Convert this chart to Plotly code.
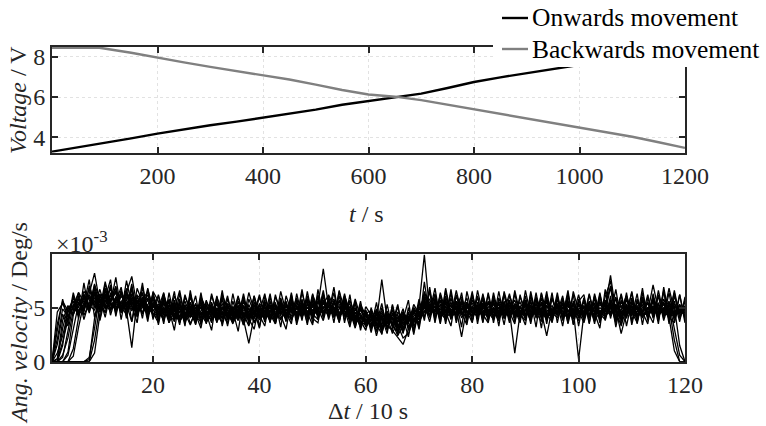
import plotly.graph_objects as go

# ---------------- top panel data ----------------
t_on = [0, 50, 100, 150, 200, 250, 300, 350, 400, 450, 500, 550, 600, 650,
        700, 750, 800, 850, 900, 950, 1000, 1050, 1100, 1150, 1200]
v_on = [3.29, 3.50, 3.72, 3.95, 4.19, 4.40, 4.60, 4.78, 4.98, 5.18, 5.38, 5.62,
        5.80, 5.97, 6.17, 6.45, 6.75, 6.98, 7.18, 7.40, 7.60, 7.80, 8.02, 8.22, 8.45]
t_back = [0, 50, 90, 150, 200, 250, 300, 350, 400, 450, 500, 550, 600, 650,
          700, 750, 800, 850, 900, 950, 1000, 1050, 1100, 1150, 1200]
v_back = [8.45, 8.45, 8.45, 8.20, 7.95, 7.72, 7.50, 7.30, 7.09, 6.87, 6.62, 6.35,
          6.13, 6.02, 5.85, 5.62, 5.39, 5.16, 4.93, 4.70, 4.48, 4.27, 4.03, 3.76, 3.48]
series_names = ["Onwards movement", "Backwards movement"]
series_colors = ["black", "#808080"]

top_xticks = [200, 400, 600, 800, 1000, 1200]
top_yticks = [4, 6, 8]

# ---------------- bottom panel data (x 1e-3 Deg/s) ----------------
dt = list(range(1, 121))
bot_xticks = [20, 40, 60, 80, 100, 120]
bot_yticks = [0, 5]

w1 = [0, 4.6, 5.4, 4.2, 5.0, 4.4, 6.1, 5.2, 4.8, 6.0, 5.3, 4.7, 5.9, 5.0, 4.4, 5.6, 4.9, 5.5, 4.3, 5.1,
      4.6, 3.9, 5.2, 4.5, 3.7, 4.9, 4.2, 5.4, 4.0, 4.6, 3.8, 5.0, 4.3, 4.8, 3.6, 4.5, 5.1, 4.2, 4.7, 3.9,
      4.4, 5.0, 4.1, 4.7, 5.3, 4.5, 4.9, 5.6, 4.6, 5.2, 4.8, 5.5, 4.3, 5.0, 4.4, 5.7, 4.6, 4.0, 4.8, 3.7,
      4.2, 3.3, 4.5, 3.6, 4.1, 3.2, 4.6, 3.9, 5.0, 4.3, 5.6, 4.7, 5.1, 4.2, 5.4, 4.6, 4.9, 5.3, 4.1, 5.0,
      4.5, 5.2, 4.4, 5.0, 4.0, 4.8, 5.4, 4.3, 4.9, 5.1, 4.2, 4.7, 5.3, 4.1, 4.6, 5.0, 4.4, 5.2, 4.5, 4.8,
      4.0, 5.1, 4.6, 5.5, 4.2, 4.9, 5.3, 4.4, 4.8, 5.0, 4.1, 4.7, 5.4, 4.3, 5.0, 4.6, 5.2, 4.4, 4.9, 4.5]
w2 = [0, 0.3, 3.8, 5.2, 4.4, 5.8, 4.9, 6.3, 8.2, 5.4, 6.0, 4.8, 5.6, 4.6, 5.3, 6.1, 4.7, 5.0, 5.7, 4.4,
      4.0, 5.1, 3.6, 4.7, 4.2, 5.3, 3.5, 4.6, 5.0, 3.8, 4.9, 4.1, 5.4, 3.9, 4.5, 4.8, 3.4, 4.6, 5.2, 4.1,
      4.7, 3.8, 4.9, 4.3, 5.5, 4.0, 5.1, 4.6, 5.8, 4.4, 5.2, 8.6, 5.0, 4.6, 5.6, 4.3, 4.9, 3.8, 4.5, 3.2,
      3.9, 2.8, 4.3, 3.4, 3.0, 4.1, 3.5, 4.4, 3.7, 4.8, 5.1, 4.2, 5.6, 4.0, 4.7, 5.2, 4.4, 5.7, 4.6, 4.2,
      5.0, 4.3, 5.5, 4.6, 4.1, 5.1, 4.7, 0.8, 4.5, 5.3, 4.0, 4.9, 4.4, 5.6, 4.2, 4.8, 5.0, 4.3, 5.4, 4.1,
      4.7, 5.0, 3.8, 4.6, 5.2, 7.0, 4.5, 3.4, 4.9, 5.1, 4.3, 4.6, 5.5, 4.8, 4.2, 5.0, 4.4, 5.3, 4.7, 5.1]
w3 = [0, 0, 1.5, 4.9, 5.6, 4.3, 5.1, 6.8, 5.0, 5.7, 4.5, 6.2, 5.2, 4.9, 6.4, 5.5, 4.6, 5.8, 4.8, 5.4,
      4.3, 5.6, 4.1, 5.0, 3.8, 4.4, 5.2, 3.9, 4.7, 5.3, 4.0, 4.5, 3.7, 5.1, 4.2, 4.9, 4.4, 3.3, 4.8, 4.5,
      5.0, 4.2, 4.6, 5.2, 4.1, 5.4, 4.5, 4.9, 4.2, 5.7, 4.8, 5.3, 6.2, 5.0, 4.5, 5.2, 3.9, 4.6, 3.5, 4.4,
      3.6, 4.0, 3.1, 4.2, 2.6, 3.8, 4.5, 3.3, 4.0, 3.6, 5.2, 5.8, 4.4, 5.0, 4.5, 5.5, 4.1, 4.8, 5.3, 4.6,
      4.2, 5.4, 4.8, 4.1, 5.0, 4.5, 5.6, 4.3, 4.7, 5.2, 4.0, 5.1, 4.6, 2.4, 4.9, 4.4, 5.3, 4.1, 4.8, 0.2,
      4.5, 4.9, 4.3, 5.0, 4.6, 5.4, 4.1, 4.8, 5.2, 3.9, 4.7, 5.6, 4.2, 5.0, 4.5, 4.9, 4.3, 5.1, 4.6, 4.4]
w4 = [0, 0, 0.4, 2.8, 5.3, 4.6, 5.9, 5.1, 6.5, 4.8, 5.6, 6.8, 5.0, 5.5, 4.7, 5.9, 5.2, 4.6, 5.3, 5.8,
      4.6, 4.1, 5.3, 4.4, 5.0, 3.6, 4.8, 4.3, 5.5, 4.2, 3.9, 4.7, 5.0, 4.1, 4.6, 3.8, 5.2, 4.5, 4.0, 4.9,
      4.3, 5.1, 4.5, 3.9, 4.8, 5.0, 4.4, 5.3, 5.0, 4.7, 5.6, 4.5, 5.1, 5.8, 4.2, 4.8, 5.4, 3.6, 4.1, 3.9,
      3.5, 4.3, 3.7, 3.2, 4.0, 3.4, 2.2, 2.6, 3.9, 4.2, 4.7, 5.3, 4.6, 5.2, 4.3, 5.0, 5.6, 4.4, 4.9, 5.4,
      4.6, 5.0, 4.4, 5.3, 4.7, 5.2, 4.2, 4.9, 5.5, 4.4, 5.1, 4.6, 4.2, 5.0, 4.8, 4.3, 5.4, 4.6, 5.0, 4.2,
      5.1, 4.4, 5.0, 4.7, 4.1, 5.2, 4.8, 4.4, 5.3, 4.6, 5.0, 4.2, 4.9, 5.5, 4.4, 4.8, 5.1, 2.0, 0.0, 0.0]
w5 = [0, 0, 0, 0.6, 3.0, 5.4, 4.7, 6.2, 5.3, 4.9, 7.4, 5.2, 5.8, 4.9, 5.5, 4.7, 6.0, 5.1, 4.6, 5.5,
      5.0, 4.3, 4.8, 5.4, 4.2, 4.6, 4.1, 5.0, 4.4, 3.6, 4.5, 4.9, 4.0, 5.3, 4.3, 4.7, 4.1, 5.0, 3.7, 4.6,
      4.1, 4.7, 5.3, 4.5, 5.1, 4.2, 5.6, 4.4, 5.0, 5.3, 4.6, 6.0, 4.5, 5.4, 5.0, 4.7, 4.3, 5.0, 3.7, 3.4,
      4.4, 3.7, 7.6, 3.9, 4.1, 2.9, 3.6, 4.0, 4.6, 3.9, 6.5, 5.0, 4.7, 5.6, 4.0, 4.6, 5.1, 4.7, 5.5, 4.4,
      4.8, 4.2, 5.1, 4.6, 5.3, 4.0, 4.8, 5.7, 4.3, 4.9, 4.6, 5.4, 4.1, 4.7, 5.2, 4.5, 4.9, 5.5, 4.3, 4.7,
      4.3, 4.8, 5.4, 4.2, 5.0, 4.6, 5.3, 4.1, 4.7, 5.2, 4.4, 5.0, 4.6, 7.1, 4.8, 5.3, 4.5, 4.2, 4.8, 5.0]
w6 = [0, 0, 0, 0, 0.5, 3.2, 5.5, 4.6, 6.9, 5.4, 6.1, 4.9, 5.7, 6.3, 5.0, 5.6, 4.6, 5.3, 6.2, 4.7,
      5.3, 4.6, 4.0, 5.2, 4.5, 5.6, 4.3, 3.9, 5.1, 4.4, 5.0, 3.7, 4.6, 4.4, 5.0, 3.9, 4.8, 4.6, 5.3, 4.2,
      5.0, 4.4, 3.8, 4.9, 4.3, 4.7, 5.2, 4.1, 5.4, 4.5, 4.9, 5.5, 4.6, 4.9, 5.3, 4.4, 5.1, 4.2, 3.6, 4.0,
      3.3, 4.5, 3.5, 4.0, 3.6, 2.4, 3.4, 3.8, 4.4, 5.1, 9.9, 4.6, 5.2, 4.4, 5.5, 4.2, 5.0, 4.6, 4.0, 5.2,
      4.3, 5.0, 4.6, 5.4, 4.2, 4.8, 5.0, 4.5, 5.1, 4.3, 4.9, 4.6, 5.3, 4.0, 4.8, 5.1, 4.4, 4.7, 5.2, 4.6,
      4.4, 5.3, 4.7, 4.3, 5.0, 8.0, 4.6, 4.2, 5.0, 4.4, 4.9, 5.2, 4.5, 4.8, 5.4, 4.2, 4.9, 4.5, 5.0, 4.7]
w7 = [0, 0, 0, 0, 0, 0, 0, 0.2, 4.0, 5.8, 4.9, 5.6, 6.6, 5.1, 6.0, 5.2, 4.8, 5.9, 5.0, 5.3,
      4.5, 5.3, 4.6, 4.1, 5.1, 4.5, 3.4, 4.8, 4.3, 5.0, 4.6, 3.9, 5.1, 4.2, 4.7, 5.2, 4.3, 4.9, 3.6, 4.4,
      4.8, 3.9, 5.1, 4.6, 4.0, 5.3, 4.3, 5.0, 4.7, 4.3, 5.5, 5.0, 4.2, 5.6, 4.4, 5.1, 4.8, 4.0, 3.8, 4.6,
      4.0, 3.6, 3.0, 4.6, 3.9, 3.1, 4.2, 3.5, 5.3, 4.4, 5.4, 4.3, 4.9, 5.3, 4.7, 4.4, 5.2, 4.1, 4.6, 5.0,
      4.4, 5.1, 4.9, 4.3, 5.6, 4.6, 4.2, 5.0, 4.7, 4.1, 5.5, 4.3, 4.8, 5.2, 4.5, 4.1, 5.0, 4.7, 4.4, 5.3,
      4.9, 4.2, 5.0, 4.6, 5.3, 4.4, 4.9, 2.6, 4.6, 5.1, 4.3, 4.8, 5.0, 4.4, 5.3, 4.7, 4.1, 1.0, 0.0, 0.0]
w8 = [0, 0, 0, 0, 0, 0, 0, 0, 2.0, 5.2, 6.2, 5.0, 5.4, 4.8, 6.4, 7.9, 5.1, 5.6, 4.6, 5.9,
      5.1, 4.8, 5.5, 4.0, 4.6, 5.0, 4.4, 5.3, 3.8, 4.7, 4.3, 5.4, 4.0, 4.6, 3.5, 4.9, 4.5, 4.1, 5.0, 4.6,
      4.2, 4.8, 4.4, 5.1, 4.6, 3.9, 5.0, 4.6, 4.4, 5.6, 4.2, 5.1, 4.8, 4.3, 5.7, 4.6, 3.9, 4.5, 4.3, 3.5,
      4.6, 3.3, 4.1, 3.6, 4.4, 3.8, 3.2, 3.9, 4.2, 4.6, 5.0, 5.5, 4.2, 4.8, 5.1, 4.5, 4.3, 5.5, 4.7, 4.3,
      5.2, 4.6, 4.1, 5.0, 4.5, 5.3, 4.9, 4.2, 4.6, 5.4, 4.4, 5.0, 4.5, 4.8, 4.3, 5.2, 4.6, 4.0, 4.9, 4.4,
      5.2, 4.6, 4.4, 5.3, 4.8, 4.3, 5.1, 4.6, 4.2, 5.4, 4.8, 4.1, 5.0, 4.6, 5.2, 4.4, 4.9, 4.3, 4.8, 4.6]
w9 = [0, 2.1, 4.9, 4.2, 5.1, 5.8, 4.6, 7.0, 5.5, 4.7, 5.6, 4.9, 6.0, 5.4, 4.8, 1.3, 5.7, 4.5, 5.2, 4.3,
      4.4, 5.0, 4.3, 3.8, 4.9, 4.1, 5.5, 4.2, 3.7, 4.8, 5.2, 4.0, 4.6, 3.6, 5.1, 4.4, 3.9, 1.7, 4.2, 4.7,
      3.9, 4.5, 5.0, 4.0, 4.7, 5.2, 4.6, 4.2, 5.0, 4.8, 4.3, 4.9, 5.6, 4.7, 4.2, 5.0, 4.5, 3.5, 4.2, 3.8,
      3.4, 4.4, 3.2, 3.7, 4.8, 3.5, 2.8, 4.2, 3.3, 4.0, 5.0, 4.8, 5.4, 4.6, 4.2, 5.3, 4.9, 2.3, 5.1, 4.8,
      4.7, 5.3, 4.2, 4.8, 5.0, 4.4, 5.2, 4.6, 4.0, 4.8, 5.2, 4.4, 5.0, 4.5, 4.1, 5.3, 4.7, 4.5, 4.0, 5.2,
      4.6, 4.4, 5.1, 4.5, 4.2, 5.0, 4.3, 5.2, 4.4, 4.7, 5.2, 4.5, 4.3, 4.9, 4.6, 5.5, 4.2, 4.6, 5.3, 4.2]
w10 = [0, 0.8, 2.4, 4.5, 5.9, 5.0, 6.5, 5.8, 5.2, 6.7, 5.0, 5.5, 4.7, 6.1, 5.2, 5.8, 4.9, 5.4, 4.6, 5.8,
       4.9, 4.5, 5.0, 4.7, 5.4, 4.0, 4.6, 5.0, 4.1, 5.2, 4.5, 4.2, 4.8, 5.2, 4.1, 4.5, 5.0, 4.3, 4.4, 5.1,
       4.6, 5.2, 4.1, 5.4, 4.4, 4.9, 4.1, 5.5, 4.3, 5.1, 4.4, 4.7, 5.2, 4.1, 4.9, 5.4, 3.8, 4.3, 4.0, 4.2,
       3.8, 4.1, 3.4, 4.7, 3.3, 2.8, 3.8, 4.1, 4.0, 3.7, 4.6, 4.4, 5.7, 4.2, 4.9, 4.6, 5.4, 4.3, 5.2, 4.7,
       5.1, 4.8, 4.3, 5.5, 4.4, 4.9, 4.5, 5.2, 4.2, 4.7, 5.0, 4.4, 5.5, 4.2, 4.7, 4.6, 5.2, 4.8, 4.1, 4.9,
       5.0, 4.7, 5.3, 4.0, 4.9, 5.5, 4.0, 4.5, 5.1, 4.8, 4.6, 5.3, 4.1, 5.2, 4.3, 5.4, 4.8, 5.1, 1.5, 0.0]
w11 = [0, 3.5, 5.6, 4.7, 5.2, 6.4, 5.5, 4.8, 5.9, 5.3, 4.6, 5.8, 6.9, 5.0, 5.7, 4.9, 5.5, 6.3, 4.9, 5.2,
       4.8, 5.5, 4.3, 5.1, 4.6, 4.9, 4.4, 5.0, 4.6, 4.2, 5.0, 4.6, 4.1, 5.0, 4.7, 4.2, 5.5, 4.8, 4.4, 5.3,
       5.1, 4.3, 4.9, 4.4, 5.2, 4.6, 5.4, 4.7, 5.0, 4.5, 5.9, 4.6, 5.4, 4.9, 5.1, 4.2, 4.6, 4.1, 4.9, 4.5,
       4.7, 3.9, 4.7, 3.5, 4.3, 4.0, 4.6, 3.7, 4.7, 4.5, 4.6, 5.1, 4.6, 5.7, 5.0, 4.8, 5.0, 4.9, 5.3, 4.5,
       4.9, 4.5, 5.4, 4.2, 5.0, 4.7, 5.1, 4.8, 4.4, 5.6, 4.7, 4.3, 4.9, 5.1, 4.6, 5.0, 4.3, 5.3, 4.7, 4.6,
       4.8, 5.1, 4.6, 5.6, 4.4, 5.1, 5.0, 4.7, 4.4, 5.0, 4.9, 4.6, 5.4, 5.0, 4.6, 4.9, 5.6, 4.5, 5.1, 4.8]
w12 = [0, 0, 3.1, 5.0, 4.4, 5.5, 4.9, 6.0, 5.6, 5.0, 6.3, 5.3, 4.9, 5.6, 6.2, 5.1, 4.5, 5.2, 5.9, 4.8,
       4.2, 4.7, 4.9, 4.3, 5.3, 4.5, 5.0, 3.7, 4.5, 4.1, 4.7, 5.3, 4.4, 4.3, 4.9, 5.0, 4.2, 4.7, 4.1, 4.8,
       4.5, 4.6, 5.2, 4.7, 4.3, 5.0, 4.9, 4.4, 5.3, 4.1, 5.0, 5.4, 4.8, 4.5, 4.9, 5.3, 4.1, 3.8, 4.8, 4.1,
       3.9, 4.8, 3.9, 3.3, 2.9, 2.2, 1.6, 3.0, 4.5, 4.2, 5.2, 5.2, 5.0, 4.5, 5.2, 4.1, 4.6, 5.1, 5.0, 4.8,
       4.6, 5.4, 4.7, 4.8, 5.3, 4.2, 5.5, 4.4, 5.0, 4.5, 4.3, 5.3, 4.7, 4.4, 5.0, 4.7, 4.4, 5.0, 5.2, 4.6,
       4.6, 5.0, 4.8, 4.5, 5.4, 4.6, 5.2, 4.6, 5.0, 4.5, 5.1, 4.3, 4.6, 5.1, 4.9, 4.4, 6.8, 4.7, 4.6, 4.9]
w13 = [0, 0, 0, 0, 1.2, 4.1, 6.3, 5.0, 7.2, 4.6, 6.8, 5.4, 7.0, 3.9, 6.5, 5.2, 3.6, 6.9, 4.8, 6.2,
       3.4, 6.0, 4.9, 2.9, 5.8, 3.8, 6.3, 4.4, 3.1, 5.7, 4.0, 6.1, 3.3, 5.4, 4.7, 2.8, 5.9, 3.9, 6.0, 3.2,
       5.5, 3.6, 6.2, 4.3, 3.0, 5.8, 3.9, 6.4, 4.5, 3.4, 6.7, 4.2, 5.9, 3.6, 6.5, 4.9, 3.2, 5.6, 2.9, 4.8,
       2.7, 4.9, 2.5, 5.3, 3.1, 4.4, 2.6, 5.0, 3.4, 5.8, 3.8, 6.6, 4.0, 6.2, 3.5, 5.9, 4.3, 6.4, 3.6, 6.1,
       3.9, 6.3, 4.1, 5.8, 3.3, 6.5, 4.6, 3.5, 6.2, 4.0, 5.7, 3.2, 6.4, 4.4, 3.7, 6.0, 4.2, 6.6, 3.4, 5.5,
       3.8, 6.2, 4.5, 3.1, 6.7, 4.0, 5.9, 3.3, 6.1, 4.6, 3.6, 6.4, 4.1, 5.8, 3.5, 6.9, 4.2, 5.6, 3.7, 6.0]
w14 = [0, 1.6, 4.4, 3.3, 6.1, 4.0, 7.3, 4.5, 6.4, 3.8, 5.9, 7.6, 4.2, 6.6, 4.9, 7.2, 4.1, 6.0, 3.7, 6.5,
       5.6, 3.5, 6.4, 4.1, 5.5, 3.3, 6.6, 3.9, 5.8, 4.5, 2.9, 6.0, 4.6, 3.5, 6.3, 4.0, 5.2, 3.7, 6.1, 4.3,
       3.3, 6.0, 4.2, 5.6, 3.7, 6.2, 3.4, 5.4, 4.1, 6.3, 3.9, 5.7, 4.5, 6.9, 3.8, 6.1, 4.7, 3.1, 5.2, 3.4,
       4.6, 2.4, 4.3, 3.0, 5.2, 2.8, 4.0, 2.3, 4.8, 3.2, 7.4, 4.1, 6.3, 3.6, 6.8, 4.4, 5.6, 3.2, 6.5, 4.5,
       6.0, 3.6, 6.4, 4.2, 5.5, 3.4, 6.1, 4.8, 3.6, 6.6, 4.3, 5.8, 3.1, 6.2, 4.5, 5.4, 3.3, 6.0, 4.7, 3.8,
       5.9, 3.5, 6.3, 4.4, 3.9, 6.1, 3.2, 5.7, 4.3, 6.5, 3.8, 5.6, 4.6, 3.6, 6.2, 4.0, 6.4, 3.7, 5.3, 4.2]
w15 = [0, 0, 0, 0, 0, 0, 0, 0.4, 3.1, 6.2, 5.1, 7.0, 4.4, 6.5, 5.3, 3.7, 6.8, 5.5, 4.3, 6.1,
       4.9, 6.4, 3.6, 5.7, 3.9, 6.2, 4.6, 3.5, 6.0, 4.2, 5.3, 3.6, 6.2, 4.9, 3.8, 5.6, 4.0, 6.4, 4.7, 3.1,
       6.1, 4.4, 3.5, 5.9, 4.1, 6.1, 3.7, 5.2, 3.6, 6.0, 4.4, 6.6, 3.9, 5.6, 4.3, 6.3, 4.0, 5.4, 3.3, 5.1,
       4.3, 3.5, 5.4, 2.9, 4.5, 3.7, 4.9, 2.9, 4.1, 3.4, 6.3, 4.6, 6.8, 3.9, 6.1, 4.2, 6.6, 4.5, 3.4, 6.3,
       4.3, 5.8, 3.7, 6.4, 4.2, 5.5, 3.9, 6.3, 4.0, 5.7, 3.5, 6.0, 4.7, 3.9, 6.4, 3.6, 5.9, 4.1, 6.2, 3.3,
       5.9, 4.1, 6.0, 3.6, 5.5, 4.4, 6.7, 3.7, 5.8, 4.2, 6.3, 3.4, 5.9, 4.5, 6.1, 3.8, 5.5, 3.0, 0.6, 0.0]
w16 = [0, 0.2, 1.8, 3.9, 6.0, 4.7, 5.3, 7.6, 4.1, 6.3, 5.0, 7.1, 4.5, 6.6, 4.0, 6.9, 4.6, 7.3, 4.2, 6.0,
       3.8, 5.9, 4.3, 6.5, 3.6, 5.2, 4.5, 6.1, 3.4, 5.6, 4.7, 3.8, 6.6, 3.9, 5.1, 4.4, 6.0, 3.5, 5.5, 4.6,
       6.3, 3.9, 5.5, 3.2, 6.1, 4.6, 5.9, 3.8, 6.5, 4.0, 3.6, 6.2, 4.6, 5.0, 3.7, 5.8, 3.5, 4.9, 3.8, 2.9,
       5.0, 3.4, 2.6, 4.3, 3.3, 5.1, 3.0, 4.6, 2.7, 5.5, 4.1, 6.9, 3.8, 6.4, 4.6, 3.3, 6.2, 4.8, 5.9, 3.7,
       6.6, 4.4, 3.6, 6.0, 4.5, 6.3, 3.8, 5.4, 4.6, 3.4, 6.5, 4.2, 5.9, 3.5, 6.0, 4.3, 5.7, 3.6, 6.5, 4.7,
       3.6, 5.5, 4.0, 6.4, 3.8, 5.7, 4.7, 6.2, 3.3, 5.6, 4.0, 6.8, 3.8, 6.0, 4.7, 5.4, 3.9, 6.6, 4.1, 5.7]
w17 = [0, 0, 0, 0.9, 4.3, 6.1, 3.9, 5.6, 6.7, 4.8, 6.0, 5.4, 7.8, 4.7, 5.8, 6.6, 4.2, 5.7, 6.5, 3.9,
       6.2, 4.4, 5.7, 3.7, 6.3, 4.2, 5.1, 3.6, 6.4, 3.7, 5.5, 4.2, 6.0, 3.3, 5.6, 4.1, 6.3, 4.0, 3.0, 5.4,
       3.7, 5.6, 3.9, 6.5, 4.6, 3.5, 6.3, 4.2, 5.7, 3.6, 6.2, 4.0, 6.0, 4.4, 6.1, 3.8, 5.7, 4.3, 3.2, 4.7,
       3.0, 4.6, 3.2, 4.0, 3.6, 5.3, 2.7, 4.6, 3.0, 4.4, 5.3, 3.7, 5.9, 4.6, 3.9, 6.4, 3.6, 5.8, 4.2, 6.5,
       3.5, 6.1, 4.6, 3.9, 6.5, 4.0, 5.7, 3.7, 6.0, 4.8, 3.8, 6.4, 3.9, 5.6, 4.0, 6.4, 3.8, 5.5, 4.4, 6.2,
       4.1, 6.3, 3.7, 5.9, 4.6, 6.9, 3.9, 4.9, 6.1, 3.7, 5.8, 4.6, 3.5, 6.3, 4.1, 5.8, 4.5, 6.4, 4.0, 5.2]
w18 = [0, 0, 0, 0, 0, 0, 0, 0, 0.8, 4.4, 7.2, 5.6, 6.4, 4.5, 7.5, 5.2, 6.2, 4.0, 6.7, 5.0,
       6.1, 3.7, 5.8, 4.8, 6.6, 4.1, 5.5, 3.4, 6.0, 4.9, 3.6, 5.6, 4.3, 6.1, 3.9, 5.2, 3.4, 5.8, 4.5, 6.2,
       4.0, 5.3, 3.5, 5.8, 3.8, 5.5, 4.0, 6.7, 3.9, 5.4, 4.6, 6.3, 4.1, 5.6, 3.6, 6.0, 4.4, 3.5, 5.6, 3.2,
       4.2, 2.8, 5.0, 3.5, 4.8, 2.5, 4.4, 3.2, 3.8, 4.9, 6.0, 4.9, 6.2, 4.0, 5.8, 3.9, 6.1, 4.4, 5.5, 3.8,
       5.5, 4.0, 6.2, 3.6, 5.9, 4.7, 6.3, 4.0, 5.2, 3.9, 6.0, 4.6, 3.7, 5.9, 3.9, 6.1, 4.1, 5.7, 3.5, 5.8,
       4.3, 5.6, 3.5, 6.2, 4.1, 5.3, 3.6, 6.3, 4.0, 5.9, 3.7, 6.0, 4.2, 5.6, 3.9, 6.6, 3.5, 6.1, 4.4, 5.5]
w19 = [0, 2.8, 5.8, 3.7, 6.4, 4.5, 6.0, 4.8, 7.1, 5.9, 4.1, 6.4, 5.5, 6.9, 4.2, 6.3, 5.5, 4.4, 6.8, 4.5,
       3.6, 6.3, 4.5, 5.3, 3.4, 6.0, 4.8, 3.9, 5.6, 3.5, 6.3, 4.4, 3.6, 5.8, 4.4, 6.1, 3.7, 5.3, 4.2, 6.0,
       4.2, 6.3, 3.6, 5.3, 3.9, 6.4, 3.7, 5.8, 3.4, 6.2, 4.9, 3.8, 5.7, 4.1, 6.6, 3.6, 6.2, 3.2, 5.3, 4.3,
       3.2, 5.5, 2.8, 4.4, 3.4, 4.6, 3.9, 5.7, 2.5, 5.0, 4.9, 6.5, 3.6, 6.2, 3.8, 6.7, 3.9, 5.4, 4.7, 3.6,
       6.1, 3.7, 5.6, 4.6, 3.8, 6.2, 4.3, 5.3, 3.9, 6.1, 3.7, 5.9, 4.1, 6.5, 3.6, 5.8, 3.9, 6.3, 4.0, 5.6,
       6.2, 3.6, 5.9, 4.0, 6.0, 7.5, 3.7, 5.6, 4.5, 6.4, 3.5, 5.8, 4.2, 6.1, 3.8, 6.5, 4.1, 3.6, 6.2, 3.9]
w20 = [0, 0, 0.6, 2.2, 4.7, 6.4, 4.3, 5.4, 6.2, 3.9, 6.7, 4.3, 6.0, 5.0, 6.8, 3.7, 5.9, 6.4, 4.0, 6.4,
       4.5, 6.2, 3.9, 6.1, 4.9, 3.8, 6.0, 4.3, 5.3, 3.7, 6.1, 4.6, 5.7, 4.4, 3.7, 6.0, 4.5, 3.9, 6.1, 4.0,
       5.7, 3.7, 6.0, 4.8, 5.6, 3.8, 5.2, 4.1, 6.1, 4.4, 3.9, 6.1, 4.4, 6.4, 4.0, 5.5, 3.9, 5.8, 4.1, 3.6,
       4.4, 3.1, 4.1, 2.6, 5.3, 3.2, 4.1, 3.6, 5.0, 3.0, 5.9, 4.1, 5.7, 3.5, 6.6, 4.0, 5.3, 6.0, 3.9, 5.7,
       4.7, 6.0, 3.9, 6.1, 4.0, 5.6, 3.6, 6.6, 4.4, 3.8, 6.2, 4.0, 6.3, 3.8, 5.8, 4.5, 6.1, 3.5, 5.6, 4.5,
       5.6, 4.0, 6.1, 3.8, 5.7, 4.4, 6.0, 3.9, 6.4, 3.4, 5.6, 4.3, 6.2, 4.0, 6.6, 4.3, 5.5, 4.0, 6.2, 3.6]

omega_runs = [w1, w2, w3, w4, w5, w6, w7, w8, w9, w10,
              w11, w12, w13, w14, w15, w16, w17, w18, w19, w20]

# ---------------- figure ----------------
FONT = "Liberation Serif, Times New Roman, serif"
AX = "#262626"
GRID = "#e2e2e2"
FS = 24
W, H = 766, 426
ML, MR = 52, 81
PW = W - ML - MR


def px_x(px):
    return (px - ML) / PW


def px_y(py):
    return 1 - py / H


fig = go.Figure()
for w in omega_runs:
    fig.add_trace(go.Scatter(x=dt[:len(w)], y=w, mode="lines", xaxis="x2", yaxis="y2",
                             line=dict(color="black", width=1.3), showlegend=False,
                             hoverinfo="skip"))
for name, col, tx, vy in zip(series_names, series_colors, [t_on, t_back], [v_on, v_back]):
    fig.add_trace(go.Scatter(x=tx, y=vy, mode="lines", name=name, showlegend=False,
                             line=dict(color=col, width=2.4)))

axis_common = dict(showline=True, linecolor=AX, linewidth=2, mirror="ticks",
                   ticks="inside", ticklen=6, tickwidth=2, tickcolor=AX,
                   showgrid=True, gridcolor=GRID, griddash="dot", gridwidth=1,
                   zeroline=False, automargin=False,
                   tickfont=dict(family=FONT, size=FS, color="#262626"))

title_font = dict(family=FONT, size=FS, color="#262626")

# legend (white box overlapping the top-right corner, as in the original)
shapes = [dict(type="rect", xref="paper", yref="paper", layer="above",
               x0=px_x(493), x1=px_x(766), y0=px_y(67), y1=px_y(0),
               fillcolor="white", line=dict(width=0))]
annotations = []
for name, col, ry in zip(series_names, series_colors, [18, 49]):
    shapes.append(dict(type="line", xref="paper", yref="paper", layer="above",
                       x0=px_x(502), x1=px_x(528), y0=px_y(ry), y1=px_y(ry),
                       line=dict(color=col, width=2.4)))
    annotations.append(dict(text=name, xref="paper", yref="paper", x=px_x(530), y=px_y(ry),
                            xanchor="left", yanchor="middle", showarrow=False,
                            font=dict(family=FONT, size=25.5, color="black")))

annotations += [
    dict(text="<i>Voltage</i> / V", xref="paper", yref="paper", x=px_x(18), y=px_y(100),
         xanchor="center", yanchor="middle", textangle=-90, showarrow=False, font=title_font),
    dict(text="<i>t</i> / s", xref="paper", yref="paper", x=px_x(366), y=px_y(214),
         xanchor="center", yanchor="middle", showarrow=False, font=title_font),
    dict(text="<i>Ang. velocity</i> / Deg/s", xref="paper", yref="paper", x=px_x(19), y=px_y(323),
         xanchor="center", yanchor="middle", textangle=-90, showarrow=False, font=title_font),
    dict(text="Δ<i>t</i> / 10 s", xref="paper", yref="paper", x=px_x(368), y=px_y(411),
         xanchor="center", yanchor="middle", showarrow=False, font=title_font),
    dict(text="×10<sup>-3</sup>", xref="paper", yref="paper", x=px_x(54), y=px_y(242),
         xanchor="left", yanchor="middle", showarrow=False, font=title_font),
]

fig.update_layout(
    template="none",
    width=W, height=H,
    margin=dict(l=ML, r=MR, t=0, b=0, pad=0, autoexpand=False),
    paper_bgcolor="white", plot_bgcolor="white",
    font=dict(family=FONT, size=FS, color="black"),
    showlegend=False,
    xaxis=dict(domain=[0, 1], anchor="y", range=[0, 1200], tickvals=top_xticks,
               ticklabelstandoff=0, **axis_common),
    yaxis=dict(domain=[px_y(152.7), px_y(46.7)], anchor="x", range=[3.24, 8.5],
               tickvals=top_yticks, **axis_common),
    xaxis2=dict(domain=[0, 1], anchor="y2", range=[1, 120], tickvals=bot_xticks,
                ticklabelstandoff=0, **axis_common),
    yaxis2=dict(domain=[px_y(361.7), px_y(254.3)], anchor="x2", range=[0, 9.94],
                tickvals=bot_yticks, **axis_common),
    shapes=shapes,
    annotations=annotations,
)

fig.write_html("out.html", config={"displayModeBar": False},
               post_script="document.body.style.margin='0';")
